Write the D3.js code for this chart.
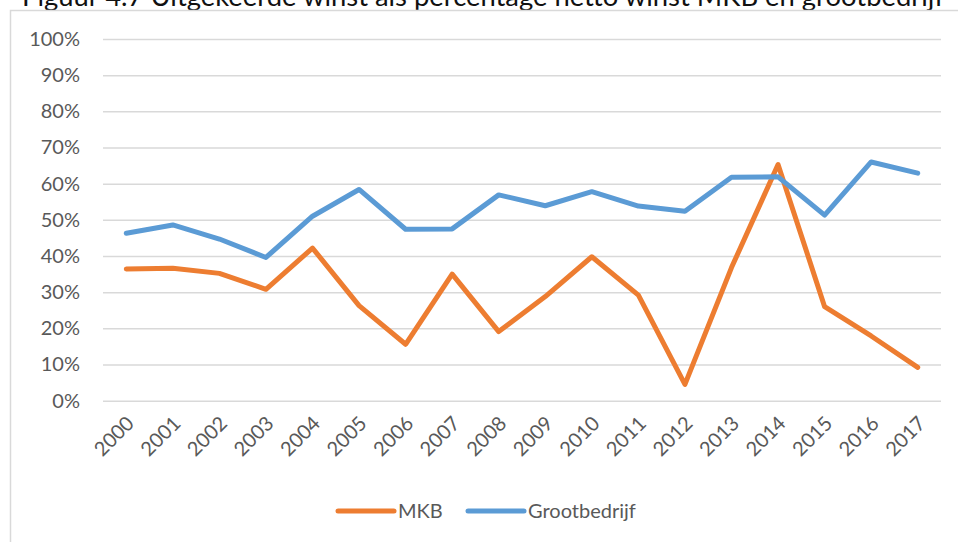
<!DOCTYPE html>
<html>
<head>
<meta charset="utf-8">
<script src="https://cdn.jsdelivr.net/npm/d3@7"></script>
<style>
  html, body { margin: 0; padding: 0; background: #fff; }
  svg { display: block; font-family: Lato, "Open Sans", sans-serif; }
</style>
</head>
<body>
<svg id="chart" width="958" height="542"></svg>
<script>
// Data
const years = ['2000','2001','2002','2003','2004','2005','2006','2007','2008',
               '2009','2010','2011','2012','2013','2014','2015','2016','2017'];
const mkb = [36.4, 36.6, 35.2, 30.8, 42.2, 26.3, 15.6, 35.0, 19.1,
             28.8, 39.8, 29.2, 4.5, 36.8, 65.3, 26.0, 17.9, 9.2];
const grootbedrijf = [46.3, 48.6, 44.7, 39.6, 51.0, 58.4, 47.4, 47.5, 56.9,
                      53.9, 57.8, 53.8, 52.4, 61.8, 61.9, 51.3, 66.0, 62.9];
const yTicks = [0, 10, 20, 30, 40, 50, 60, 70, 80, 90, 100];
const series = [
  { name: 'MKB', values: mkb, color: '#ED7D31' },
  { name: 'Grootbedrijf', values: grootbedrijf, color: '#5B9BD5' }
];
const title = 'Figuur 4.7 Uitgekeerde winst als percentage netto winst MKB en grootbedrijf';

const svg = d3.select('#chart');
const plot = { left: 103, right: 941, top: 39, bottom: 400.7 };

// Title, cut off by the top edge of the picture (as in the source)
svg.append('text')
    .attr('x', 22)
    .attr('y', 6)
    .attr('font-size', 26)
    .attr('fill', '#111')
    .attr('textLength', 922)
    .attr('lengthAdjust', 'spacingAndGlyphs')
    .text(title);

// Chart frame
svg.append('path')
    .attr('d', 'M10.5,542 V10.5 H958')
    .attr('fill', 'none')
    .attr('stroke', '#D9D9D9')
    .attr('stroke-width', 1.5);

const x = d3.scaleBand().domain(years).range([plot.left, plot.right]);
const y = d3.scaleLinear().domain([0, 100]).range([plot.bottom, plot.top]);

// Gridlines + y labels
const yAxis = d3.axisLeft(y)
    .tickValues(yTicks)
    .tickSize(-(plot.right - plot.left))
    .tickPadding(23)
    .tickFormat(d => d + '%');

const gy = svg.append('g')
    .attr('transform', `translate(${plot.left},0)`)
    .call(yAxis);
gy.select('.domain').remove();
gy.selectAll('.tick line').attr('stroke', '#D9D9D9').attr('stroke-width', 1.5);
gy.selectAll('.tick text')
    .attr('fill', '#595959')
    .attr('font-size', 20)
    .attr('font-family', 'Lato, sans-serif');

// X axis labels, rotated
const xAxis = d3.axisBottom(x).tickSize(0).tickPadding(0);
const gx = svg.append('g')
    .attr('transform', `translate(0,${plot.bottom})`)
    .call(xAxis);
gx.select('.domain').remove();
gx.selectAll('.tick text')
    .attr('fill', '#595959')
    .attr('font-size', 20)
    .attr('font-family', 'Lato, sans-serif')
    .attr('text-anchor', 'end')
    .attr('dy', null)
    .attr('transform', 'translate(9,24) rotate(-45)');

// Lines
const line = d3.line()
    .x((d, i) => x(years[i]) + x.bandwidth() / 2)
    .y(d => y(d));

series.forEach(s => {
  svg.append('path')
      .datum(s.values)
      .attr('fill', 'none')
      .attr('stroke', s.color)
      .attr('stroke-width', 5)
      .attr('stroke-linejoin', 'round')
      .attr('stroke-linecap', 'round')
      .attr('d', line);
});

// Legend
const legendX = [338, 468];
const legend = svg.append('g').attr('transform', 'translate(0,511)');
series.forEach((s, i) => {
  const g = legend.append('g').attr('transform', `translate(${legendX[i]},0)`);
  g.append('line')
      .attr('x1', 0).attr('x2', 56)
      .attr('stroke', s.color)
      .attr('stroke-width', 5)
      .attr('stroke-linecap', 'round');
  g.append('text')
      .attr('x', 60)
      .attr('dy', '0.35em')
      .attr('fill', '#595959')
      .attr('font-size', 20)
      .text(s.name);
});
</script>
</body>
</html>
